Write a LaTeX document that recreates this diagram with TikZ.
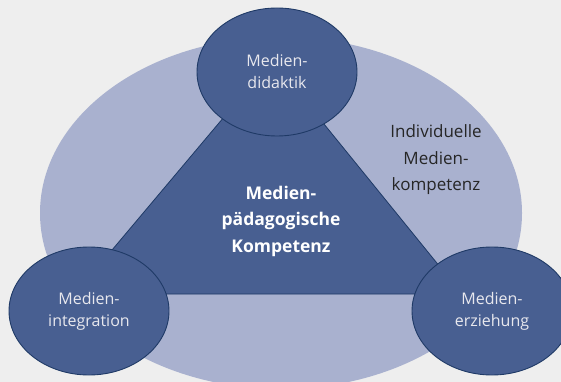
\documentclass[tikz,border=0pt]{standalone}
\usepackage{fontspec}
\setmainfont{Open Sans}
\usetikzlibrary{shapes.geometric}
\definecolor{bgc}{HTML}{EEEEEE}
\definecolor{outerc}{HTML}{A9B1CF}
\definecolor{darkc}{HTML}{485F91}
\definecolor{linec}{HTML}{1F3A66}
\definecolor{circtext}{HTML}{E8E8EE}
\tikzset{
  circ/.style={ellipse, draw=linec, line width=0.9pt, fill=darkc,
    minimum width=160pt, minimum height=128pt, inner sep=0pt,
    text=circtext, align=center,
    font=\fontsize{16}{22}\selectfont},
  lbl/.style={align=center, font=\fontsize{17}{26.5}\selectfont},
}
\begin{document}
\begin{tikzpicture}[x=1pt,y=-1pt]
\useasboundingbox (0,0) rectangle (561,382);
\fill[bgc] (0,0) rectangle (561,382);
\node[ellipse, fill=outerc, minimum width=482pt, minimum height=352pt, inner sep=0pt] (outer) at (281,213) {};
\coordinate (tA) at (272,60);
\coordinate (tB) at (75,294);
\coordinate (tC) at (462,294);
\draw[fill=darkc, draw=linec, line width=0.8pt] (tA) -- (tB) -- (tC) -- cycle;
\node[circ] (top) at (277,72) {Medien-\\didaktik};
\node[circ] (left) at (89,311) {Medien-\\integration};
\node[circ] (right) at (492,311) {Medien-\\erziehung};
\node[lbl, text=white, font=\bfseries\fontsize{17.5}{26.5}\selectfont] (center) at (281,221) {Medien-\\pädagogische\\Kompetenz};
\node[lbl, text=black!85] (indiv) at (436,160) {Individuelle\\Medien-\\kompetenz};
\end{tikzpicture}
\end{document}
